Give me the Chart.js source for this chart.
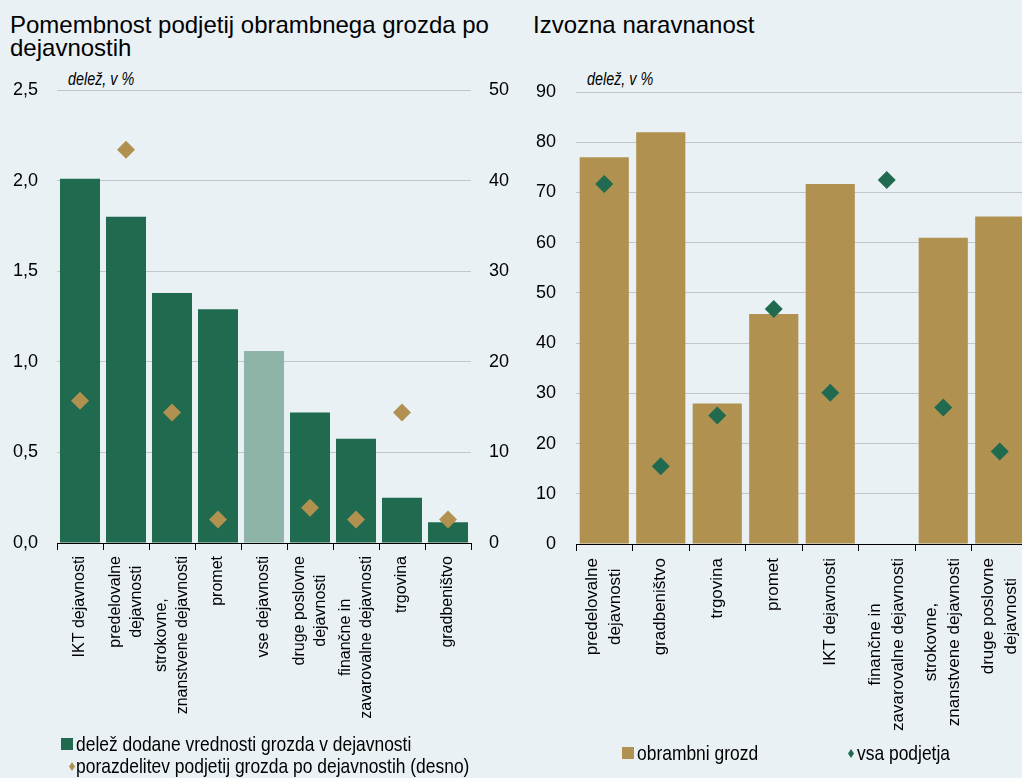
<!DOCTYPE html>
<html>
<head>
<meta charset="utf-8">
<script src="https://cdn.jsdelivr.net/npm/chart.js@4.4.0/dist/chart.umd.min.js"></script>
<style>
  html, body { margin: 0; padding: 0; }
  body {
    width: 1022px; height: 778px; overflow: hidden; position: relative;
    background: #e9f1f5; font-family: 'Liberation Sans', Arial, sans-serif; color: #000;
  }
  .title { position: absolute; font-size: 24px; line-height: 23px; white-space: nowrap; }
  /* no narrow face installed: squeeze regular Liberation Sans instead */
  .unit { position: absolute; font-style: italic; font-size: 17.5px; line-height: 18px;
          transform: scaleX(0.82); transform-origin: 0 0; white-space: nowrap; }
  canvas { position: absolute; }
  .lg { position: absolute; font-size: 21px; line-height: 22px; white-space: nowrap;
        transform: scaleX(0.83); transform-origin: 0 0; }
  .sq { position: absolute; width: 12px; height: 12px; }
  .dm { position: absolute; width: 6px; height: 9px; clip-path: polygon(50% 0, 100% 50%, 50% 100%, 0 50%); }
</style>
</head>
<body>
<div class="title" style="left:10px; top:13px;">Pomembnost podjetij obrambnega grozda po<br>dejavnostih</div>
<div class="title" style="left:533px; top:13px;">Izvozna naravnanost</div>
<div class="unit" style="left:68px; top:70px;">delež, v %</div>
<div class="unit" style="left:587px; top:70px;">delež, v %</div>

<canvas id="left" width="510" height="680" style="left:0; top:60px;"></canvas>
<canvas id="right" width="518" height="690" style="left:510px; top:60px;"></canvas>

<div class="sq" style="left:61px; top:738px; background:#206a50;"></div>
<div class="lg" style="left:76px; top:733px;">delež dodane vrednosti grozda v dejavnosti</div>
<div class="dm" style="left:69px; top:762px; background:#b0914f;"></div>
<div class="lg" style="left:76px; top:755px;">porazdelitev podjetij grozda po dejavnostih (desno)</div>

<div class="sq" style="left:622px; top:747px; background:#b0914f;"></div>
<div class="lg" style="left:637px; top:742px;">obrambni grozd</div>
<div class="dm" style="left:848px; top:749px; background:#206a50;"></div>
<div class="lg" style="left:857px; top:742px;">vsa podjetja</div>

<script>
// --- data: levi graf (pomembnost po dejavnostih) ---
const leftCategories = [
    ['IKT dejavnosti'], ['predelovalne', 'dejavnosti'], ['strokovne,', 'znanstvene dejavnosti'],
    ['promet'], ['vse dejavnosti'], ['druge poslovne', 'dejavnosti'],
    ['finančne in', 'zavarovalne dejavnosti'], ['trgovina'], ['gradbeništvo']
];
const valueAddedShare = [2.01, 1.80, 1.38, 1.29, 1.06, 0.72, 0.575, 0.25, 0.115];
const firmDistribution = [15.7, 43.4, 14.4, 2.6, null, 3.9, 2.6, 14.4, 2.6];
const leftTicks = [0, 0.5, 1, 1.5, 2, 2.5];
const leftRightTicks = [0, 10, 20, 30, 40, 50];

// --- data: desni graf (izvozna naravnanost) ---
const rightCategories = [
    ['predelovalne', 'dejavnosti'], ['gradbeništvo'], ['trgovina'], ['promet'],
    ['IKT dejavnosti'], ['finančne in', 'zavarovalne dejavnosti'],
    ['strokovne,', 'znanstvene dejavnosti'], ['druge poslovne', 'dejavnosti']
];
const defenceCluster = [77, 82, 28, 45.8, 71.7, null, 61, 65.2];
const allFirms = [71.7, 15.5, 25.6, 46.8, 30.1, 72.5, 27.2, 18.4];
const rightTicks = [0, 10, 20, 30, 40, 50, 60, 70, 80, 90];

const GREEN = '#206a50';
const GREEN_LIGHT = '#8db4a6';
const GOLD = '#b0914f';
const GRID = '#c3c6c8';

Chart.defaults.font.family = "'Liberation Sans', Arial, sans-serif";
Chart.defaults.color = '#000';

// rotated, centre-aligned category labels under the x axis
const rotatedLabels = {
    id: 'rotatedLabels',
    afterDraw(chart, args, opts) {
        const ctx = chart.ctx;
        const x = chart.scales.x;
        ctx.save();
        ctx.font = opts.size + 'px ' + Chart.defaults.font.family;
        ctx.fillStyle = '#000';
        ctx.textAlign = 'center';
        ctx.textBaseline = 'middle';
        chart.data.labels.forEach((lab, i) => {
            const lines = [].concat(lab);
            const w = Math.max(...lines.map(l => ctx.measureText(l).width));
            ctx.save();
            ctx.translate(x.getPixelForValue(i), x.top + opts.pad);
            ctx.rotate(-Math.PI / 2);
            lines.forEach((l, k) => {
                ctx.fillText(l, -w / 2, (k - (lines.length - 1) / 2) * opts.lineHeight);
            });
            ctx.restore();
        });
        ctx.restore();
    }
};

function fixedTicks(list) {
    return function (scale) {
        scale.ticks = list.map(v => ({ value: v }));
    };
}

const xAxis = (height) => ({
    grid: { display: true, offset: true, drawOnChartArea: false, drawTicks: true, tickLength: 7, color: '#000' },
    border: { display: true, color: '#000', width: 1 },
    ticks: { display: false },
    afterFit: s => { s.height = height; }
});

new Chart(document.getElementById('left'), {
    type: 'bar',
    data: {
        labels: leftCategories,
        datasets: [
            {
                type: 'line',
                label: 'porazdelitev podjetij grozda po dejavnostih (desno)',
                data: firmDistribution,
                yAxisID: 'y1',
                showLine: false,
                pointStyle: 'rectRot',
                pointRadius: 9,
                pointBorderWidth: 0,
                pointBackgroundColor: GOLD,
                order: 0
            },
            {
                label: 'delež dodane vrednosti grozda v dejavnosti',
                data: valueAddedShare,
                yAxisID: 'y',
                backgroundColor: leftCategories.map(c => c[0] === 'vse dejavnosti' ? GREEN_LIGHT : GREEN),
                categoryPercentage: 1,
                barPercentage: 0.87,
                order: 1
            }
        ]
    },
    options: {
        responsive: false,
        animation: false,
        layout: { autoPadding: false, padding: { top: 30, left: 0, right: 0, bottom: 0 } },
        plugins: {
            legend: { display: false },
            tooltip: { enabled: false },
            rotatedLabels: { size: 16, pad: 13, lineHeight: 21 }
        },
        scales: {
            x: xAxis(197),
            y: {
                position: 'left', min: 0, max: 2.5,
                afterBuildTicks: fixedTicks(leftTicks),
                grid: { color: GRID, drawTicks: false },
                border: { display: false },
                ticks: {
                    padding: 19,
                    font: { size: 18 },
                    callback: v => v.toFixed(1).replace('.', ',')
                },
                afterFit: s => { s.width = 57; }
            },
            y1: {
                position: 'right', min: 0, max: 50,
                afterBuildTicks: fixedTicks(leftRightTicks),
                grid: { display: false, drawTicks: false },
                border: { display: false },
                ticks: { padding: 18, font: { size: 18 } },
                afterFit: s => { s.width = 39; }
            }
        }
    },
    plugins: [rotatedLabels]
});

new Chart(document.getElementById('right'), {
    type: 'bar',
    data: {
        labels: rightCategories,
        datasets: [
            {
                type: 'line',
                label: 'vsa podjetja',
                data: allFirms,
                showLine: false,
                pointStyle: 'rectRot',
                pointRadius: 9,
                pointBorderWidth: 0,
                pointBackgroundColor: GREEN,
                order: 0
            },
            {
                label: 'obrambni grozd',
                data: defenceCluster,
                backgroundColor: GOLD,
                categoryPercentage: 1,
                barPercentage: 0.87,
                order: 1
            }
        ]
    },
    options: {
        responsive: false,
        animation: false,
        layout: { autoPadding: false, padding: { top: 32, left: 0, right: 0, bottom: 0 } },
        plugins: {
            legend: { display: false },
            tooltip: { enabled: false },
            rotatedLabels: { size: 17, pad: 14, lineHeight: 23 }
        },
        scales: {
            x: xAxis(206),
            y: {
                position: 'left', min: 0, max: 90,
                afterBuildTicks: fixedTicks(rightTicks),
                grid: { color: GRID, drawTicks: false },
                border: { display: false },
                ticks: { padding: 20, font: { size: 18 } },
                afterFit: s => { s.width = 66; }
            }
        }
    },
    plugins: [rotatedLabels]
});
</script>
</body>
</html>
